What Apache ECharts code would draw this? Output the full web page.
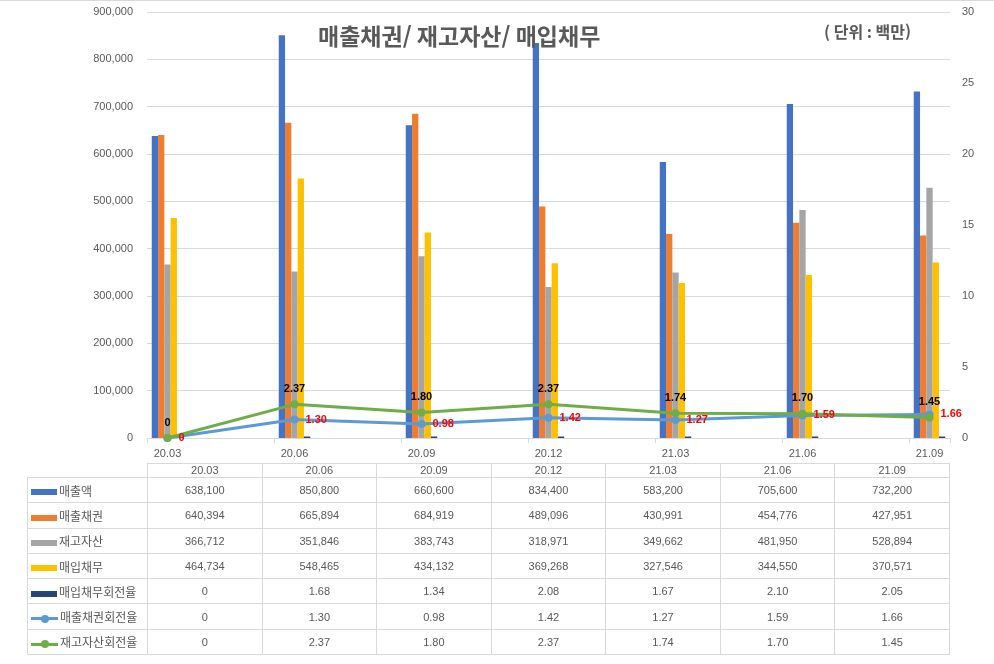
<!DOCTYPE html>
<html lang="ko">
<head>
<meta charset="utf-8">
<title>매출채권/ 재고자산/ 매입채무</title>
<script src="https://cdn.jsdelivr.net/npm/echarts@6/dist/echarts.min.js"></script>
<style>
  html, body { margin: 0; padding: 0; background: #fff; }
  #wrap { position: relative; width: 994px; height: 664px; overflow: hidden; }
  #topLine { position: absolute; left: 0; top: 0; width: 994px; height: 1px; background: #d9d9d9; }
  #chart { position: absolute; left: 0; top: 0; width: 994px; height: 664px; }
  #dataTable {
    position: absolute; left: 27px; top: 463px; width: 923px;
    border-collapse: collapse; table-layout: fixed;
    font-family: "Liberation Sans", "Noto Sans CJK KR", sans-serif;
    font-size: 11px; color: #595959;
  }
  #dataTable th, #dataTable td { border: 1px solid #d9d9d9; padding: 0; text-align: center; font-weight: normal; }
  #dataTable thead th { height: 13px; line-height: 13px; }
  #dataTable thead th.blank { border: none; }
  #dataTable tbody td { height: 24.3px; }
  #dataTable tbody td.name {
    text-align: left; padding-left: 3px; white-space: nowrap;
    font-family: "Noto Sans CJK KR", sans-serif; font-size: 12px;
  }
  .sw { display: inline-block; vertical-align: middle; margin-right: 2px; position: relative; }
  .sw.bar { width: 26px; height: 6px; }
  .sw.line { width: 27px; height: 3px; }
  .sw.line i { position: absolute; left: 10px; top: -2.5px; width: 8px; height: 8px; border-radius: 50%; }
</style>
</head>
<body>
<div id="wrap">
  <div id="chart"></div>
  <div id="topLine"></div>
  <table id="dataTable"></table>
</div>
<script>
// ---------------------------------------------------------------------------
// Data (단위: 백만)
// ---------------------------------------------------------------------------
const categories         = ["20.03", "20.06", "20.09", "20.12", "21.03", "21.06", "21.09"];
const sales              = [638100, 850800, 660600, 834400, 583200, 705600, 732200];
const receivables        = [640394, 665894, 684919, 489096, 430991, 454776, 427951];
const inventory          = [366712, 351846, 383743, 318971, 349662, 481950, 528894];
const payables           = [464734, 548465, 434132, 369268, 327546, 344550, 370571];
const payableTurnover    = [0, 1.68, 1.34, 2.08, 1.67, 2.10, 2.05];
const receivableTurnover = [0, 1.30, 0.98, 1.42, 1.27, 1.59, 1.66];
const inventoryTurnover  = [0, 2.37, 1.80, 2.37, 1.74, 1.70, 1.45];

const amountAxis = { min: 0, max: 900000, interval: 100000 };
const ratioAxis  = { min: 0, max: 30, interval: 5 };

const fmtAmount = (v) => v.toLocaleString("en-US");
const fmtRatio  = (v) => (v === 0 ? "0" : v.toFixed(2));

const seriesDefs = [
  { name: "매출액",         kind: "bar",  color: "#4472C4", data: sales,              fmt: fmtAmount },
  { name: "매출채권",       kind: "bar",  color: "#ED7D31", data: receivables,        fmt: fmtAmount },
  { name: "재고자산",       kind: "bar",  color: "#A5A5A5", data: inventory,          fmt: fmtAmount },
  { name: "매입채무",       kind: "bar",  color: "#FFC000", data: payables,           fmt: fmtAmount },
  { name: "매입채무회전율", kind: "bar",  color: "#264478", data: payableTurnover,    fmt: fmtRatio },
  { name: "매출채권회전율", kind: "line", color: "#5B9BD5", data: receivableTurnover, fmt: fmtRatio },
  { name: "재고자산회전율", kind: "line", color: "#70AD47", data: inventoryTurnover,  fmt: fmtRatio },
];

// ---------------------------------------------------------------------------
// Chart
// ---------------------------------------------------------------------------
const chart = echarts.init(document.getElementById("chart"));
const TXT = "#595959";
const GRIDLINE = "#d9d9d9";
const BAND = 127;          // px per category as drawn in the original

const series = seriesDefs.map((d) => {
  if (d.kind === "bar") {
    return {
      name: d.name, type: "bar", xAxisIndex: 1, yAxisIndex: 2,
      data: d.data, barWidth: 6.3, barGap: "0%",
      barMinHeight: d.data === payableTurnover ? 1.5 : 0,
      itemStyle: { color: d.color },
    };
  }
  const isRecv = d.data === receivableTurnover;
  return {
    name: d.name, type: "line", xAxisIndex: 1, yAxisIndex: 3,
    data: d.data, symbol: "circle", symbolSize: 8,
    lineStyle: { width: 3, color: d.color },
    itemStyle: { color: d.color },
    label: {
      show: true,
      position: isRecv ? "right" : "top",
      distance: isRecv ? 7 : 6,
      color: isRecv ? "#FF0000" : "#000000",
      fontWeight: "bold", fontSize: 11,
      formatter: (p) => fmtRatio(p.value),
    },
  };
});

chart.setOption({
  animation: false,
  textStyle: { fontFamily: "Liberation Sans, Noto Sans CJK KR, sans-serif" },
  title: [
    {
      text: "매출채권/ 재고자산/ 매입채무", left: 318, top: 25, padding: 0,
      textStyle: { fontSize: 23, fontWeight: "bold", color: TXT, fontFamily: "Noto Sans CJK KR" },
    },
    {
      text: "( 단위 : 백만)", left: 824, top: 24, padding: 0,
      textStyle: { fontSize: 16, fontWeight: "bold", color: TXT, fontFamily: "Noto Sans CJK KR" },
    },
  ],
  grid: [
    { left: 147, width: 803, top: 12, height: 426 },
    { left: 104, width: BAND * categories.length, top: 12, height: 426 },
  ],
  xAxis: [
    {
      type: "value", gridIndex: 0, min: 0, max: 803 / BAND, interval: 1,
      axisLine: { show: true, lineStyle: { color: GRIDLINE } },
      axisTick: { show: true, length: 5, lineStyle: { color: GRIDLINE } },
      axisLabel: { show: false }, splitLine: { show: false },
    },
    {
      type: "category", gridIndex: 1, data: categories,
      axisLine: { show: false }, axisTick: { show: false },
      axisLabel: { color: TXT, fontSize: 11, margin: 10 },
    },
  ],
  yAxis: [
    {
      type: "value", gridIndex: 0, position: "left", ...amountAxis,
      axisLine: { show: false }, axisTick: { show: false },
      axisLabel: { color: TXT, fontSize: 11, margin: 14, formatter: fmtAmount },
      splitLine: { lineStyle: { color: GRIDLINE } },
    },
    {
      type: "value", gridIndex: 0, position: "right", ...ratioAxis,
      axisLine: { show: false }, axisTick: { show: false },
      axisLabel: { color: TXT, fontSize: 11, margin: 12 },
      splitLine: { show: false },
    },
    { type: "value", gridIndex: 1, ...amountAxis, show: false },
    { type: "value", gridIndex: 1, ...ratioAxis, show: false },
  ],
  series,
});

// ---------------------------------------------------------------------------
// Data table under the chart
// ---------------------------------------------------------------------------
const table = document.getElementById("dataTable");
let html = '<colgroup><col style="width:120px">' + categories.map(() => "<col>").join("") + "</colgroup>";
html += '<thead><tr><th class="blank"></th>' + categories.map((c) => `<th>${c}</th>`).join("") + "</tr></thead><tbody>";
seriesDefs.forEach((d) => {
  const sw = d.kind === "bar"
    ? `<span class="sw bar" style="background:${d.color}"></span>`
    : `<span class="sw line" style="background:${d.color}"><i style="background:${d.color}"></i></span>`;
  html += `<tr><td class="name">${sw}${d.name}</td>` + d.data.map((v) => `<td>${d.fmt(v)}</td>`).join("") + "</tr>";
});
html += "</tbody>";
table.innerHTML = html;
</script>
</body>
</html>
